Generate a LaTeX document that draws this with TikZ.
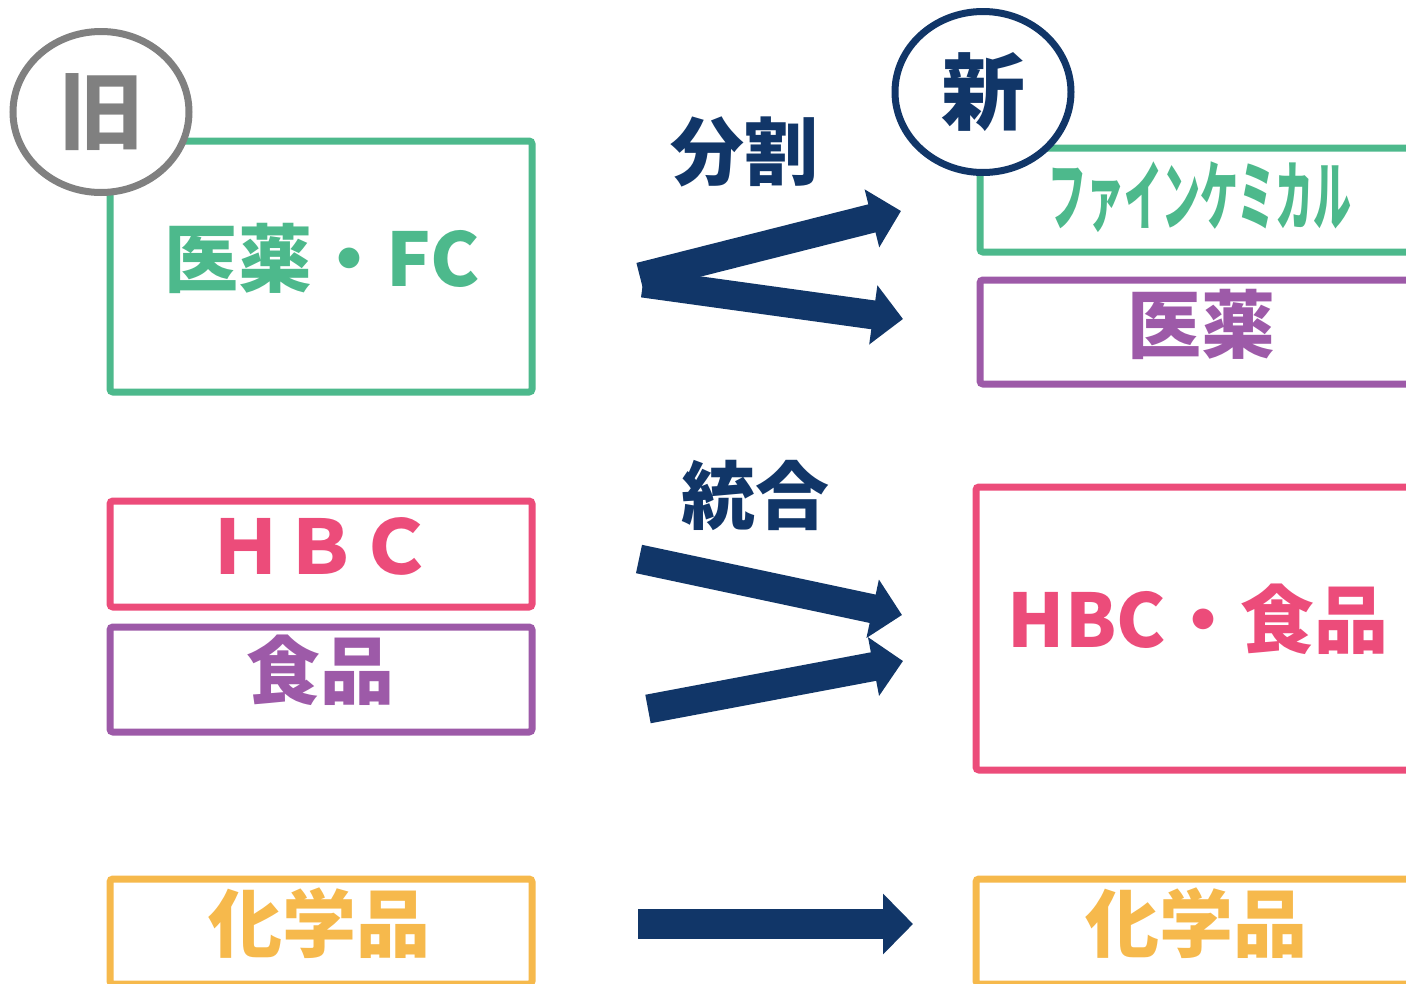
\documentclass[tikz,border=0pt]{standalone}
\usepackage{fontspec}
\newfontfamily\jpfont{Noto Sans CJK JP}
\usetikzlibrary{shapes.geometric,arrows.meta}
\definecolor{fcgreen}{RGB}{77,185,140}
\definecolor{oldgrey}{RGB}{128,128,128}
\definecolor{newnavy}{RGB}{17,54,104}
\definecolor{hbcpink}{RGB}{236,76,122}
\definecolor{medpurple}{RGB}{157,90,168}
\definecolor{chemorange}{RGB}{246,185,76}

\begin{document}
\begin{tikzpicture}[x=1pt, y=-1pt,
  box/.style={draw, line width=7pt, rounded corners=3pt, inner sep=0pt, outer sep=0pt, anchor=north west},
  jp/.style={font=\jpfont\bfseries\fontsize{74}{80}\selectfont, inner sep=0pt},
  tag/.style={ellipse, draw, fill=white, line width=7pt, inner sep=0pt,
    minimum width=176pt, minimum height=161pt, font=\jpfont\bfseries\fontsize{84}{90}\selectfont},
  bigarrow/.style={draw=newnavy, line width=29pt, -{Triangle[length=30pt,width=58pt]}, newnavy}]
  \useasboundingbox (0,0) rectangle (1406,983);
  \clip (0,0) rectangle (1406,983);

  % old side
  \node[box, draw=fcgreen, minimum width=422pt, minimum height=251pt] (oldfc) at (110,141) {};
  \node[box, draw=hbcpink, minimum width=422pt, minimum height=106pt] (oldhbc) at (110,501) {};
  \node[box, draw=medpurple, minimum width=422pt, minimum height=105pt] (oldfood) at (110,627) {};
  \node[box, draw=chemorange, minimum width=422pt, minimum height=105pt] (oldchem) at (110,879) {};

  \node[jp, fcgreen] (oldfctext) at (322,258) {医薬・FC};
  \node[jp, hbcpink, font=\jpfont\bfseries\fontsize{75}{80}\selectfont] (oldhbctext) at (321,546) {ＨＢＣ};
  \node[jp, medpurple] (oldfoodtext) at (320,670) {食品};
  \node[jp, chemorange] (oldchemtext) at (319,923) {化学品};

  % new side
  \node[box, draw=fcgreen, minimum width=460pt, minimum height=104pt] (newfc) at (980,148) {};
  \node[box, draw=medpurple, minimum width=460pt, minimum height=104pt] (newmed) at (980,280) {};
  \node[box, draw=hbcpink, minimum width=464pt, minimum height=283pt] (newhbc) at (976,487) {};
  \node[box, draw=chemorange, minimum width=464pt, minimum height=105pt] (newchem) at (976,879) {};

  \node[jp, fcgreen, font=\jpfont\bfseries\fontsize{76}{80}\selectfont] (newfctext) at (1200,197) {\scalebox{0.5}[1]{ファインケミカル}};
  \node[jp, medpurple] (newmedtext) at (1201,324) {医薬};
  \node[jp, hbcpink] (newhbctext) at (1198,619) {HBC・食品};
  \node[jp, chemorange] (newchemtext) at (1196,923) {化学品};

  % circles
  \node[tag, draw=oldgrey, text=oldgrey] (old) at (101,112) {旧};
  \node[tag, draw=newnavy, text=newnavy] (new) at (983,92) {新};

  % labels
  \node[jp, newnavy] (split) at (744,152) {分割};
  \node[jp, newnavy] (merge) at (755,495) {統合};

  % arrows
  \coordinate (splitfromA) at (640,277);
  \coordinate (splitfromB) at (643,283);
  \coordinate (splittoA) at (901,211);
  \coordinate (splittoB) at (903,319);
  \coordinate (mergefromA) at (639,559);
  \coordinate (mergefromB) at (648,709);
  \coordinate (mergetoA) at (902,615);
  \coordinate (mergetoB) at (903,661);
  \coordinate (chemfrom) at (638,924);
  \coordinate (chemto) at (913,924);
  \draw[bigarrow] (splitfromA) -- (splittoA);
  \draw[bigarrow] (splitfromB) -- (splittoB);
  \draw[bigarrow] (mergefromA) -- (mergetoA);
  \draw[bigarrow] (mergefromB) -- (mergetoB);
  \draw[bigarrow, line width=30pt, -{Triangle[length=30pt,width=59pt]}] (chemfrom) -- (chemto);
\end{tikzpicture}
\end{document}
